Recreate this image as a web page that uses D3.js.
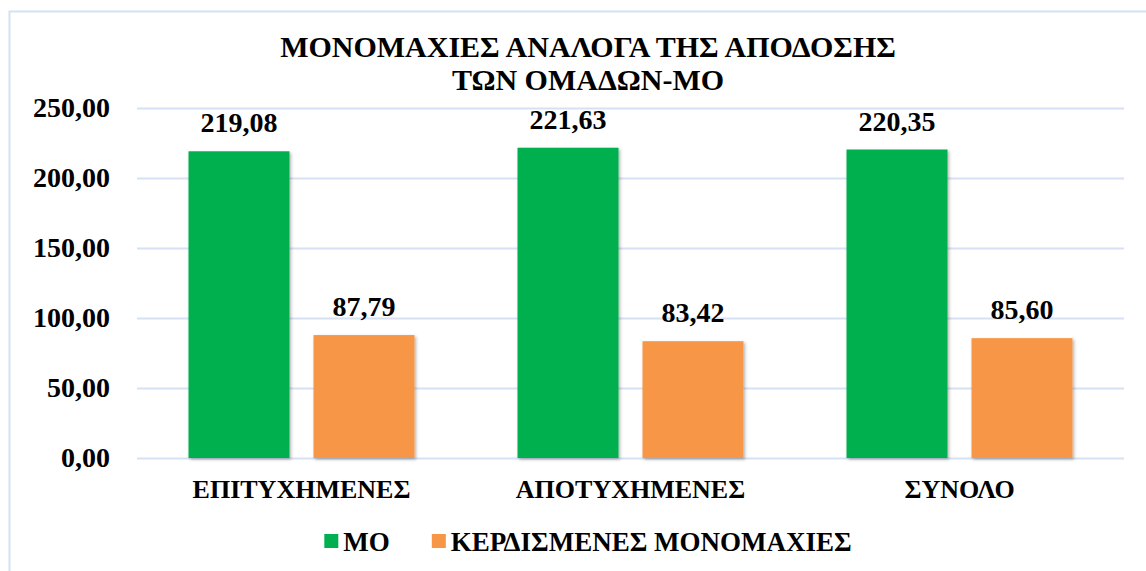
<!DOCTYPE html>
<html>
<head>
<meta charset="utf-8">
<script src="https://cdn.jsdelivr.net/npm/d3@7"></script>
<style>
  html, body { margin: 0; padding: 0; background: #fff; }
  svg { display: block; }
</style>
</head>
<body>
<svg id="chart" width="1146" height="571"></svg>
<script>
// chart data
const titleLines = ["ΜΟΝΟΜΑΧΙΕΣ ΑΝΑΛΟΓΑ ΤΗΣ ΑΠΟΔΟΣΗΣ", "ΤΩΝ ΟΜΑΔΩΝ-ΜΟ"];
const categories = ["ΕΠΙΤΥΧΗΜΕΝΕΣ", "ΑΠΟΤΥΧΗΜΕΝΕΣ", "ΣΥΝΟΛΟ"];
const seriesNames = ["ΜΟ", "ΚΕΡΔΙΣΜΕΝΕΣ ΜΟΝΟΜΑΧΙΕΣ"];
const moValues = [219.08, 221.63, 220.35];
const wonValues = [87.79, 83.42, 85.60];
const yTicks = [0, 50, 100, 150, 200, 250];
const colors = ["#00B050", "#F79646"];

const FONT = "Liberation Serif";
const seriesValues = [moValues, wonValues];
const fmt = v => v.toFixed(2).replace(".", ",");

const svg = d3.select("#chart");
const margin = {top: 108, right: 22, bottom: 113, left: 137};
const width = 1146 - margin.left - margin.right;   // plot width
const height = 571 - margin.top - margin.bottom;   // plot height
const centerX = 588; // chart centre (title and legend)

// shadow for the bars
const defs = svg.append("defs");
const f = defs.append("filter").attr("id", "shadow")
    .attr("x", "-10%").attr("y", "-10%").attr("width", "130%").attr("height", "130%");
f.append("feDropShadow")
    .attr("dx", 1.5).attr("dy", 1.5).attr("stdDeviation", 1.5)
    .attr("flood-color", "#000").attr("flood-opacity", 0.3);

// outer chart border (runs past the window on right and bottom)
svg.append("rect")
    .attr("x", 9.5).attr("y", 11.5)
    .attr("width", 1300).attr("height", 700)
    .attr("fill", "none")
    .attr("stroke", "#D6E2F4")
    .attr("stroke-width", 2);

// title
svg.append("text")
    .attr("text-anchor", "middle")
    .attr("font-family", FONT)
    .attr("font-weight", "bold")
    .attr("font-size", 30)
    .attr("fill", "#000")
    .selectAll("tspan")
    .data(titleLines)
  .enter().append("tspan")
    .attr("x", centerX)
    .attr("y", (d, i) => 57 + i * 33)
    .text(d => d);

const g = svg.append("g")
    .attr("transform", "translate(" + margin.left + "," + margin.top + ")");

const x0 = d3.scaleBand()
    .domain(categories)
    .range([0, width])
    .padding(0);

const x1 = d3.scaleBand()
    .domain(d3.range(seriesNames.length))
    .range([51.5, x0.bandwidth() - 51.5])
    .paddingInner(0.192)
    .paddingOuter(0);

const y = d3.scaleLinear()
    .domain([0, 250])
    .range([height, 0]);

// gridlines
g.append("g")
    .selectAll("line")
    .data(yTicks)
  .enter().append("line")
    .attr("x1", 0).attr("x2", width)
    .attr("y1", d => Math.round(y(d)) + 0.5)
    .attr("y2", d => Math.round(y(d)) + 0.5)
    .attr("stroke", "#D6E2F4")
    .attr("stroke-width", 2);

// y axis labels
const yAxis = g.append("g")
    .call(d3.axisLeft(y).tickValues(yTicks).tickFormat(fmt).tickSize(0).tickPadding(27));
yAxis.attr("font-family", FONT);
yAxis.select(".domain").remove();
yAxis.selectAll("text")
    .attr("font-family", FONT)
    .attr("font-weight", "bold")
    .attr("font-size", 28)
    .attr("fill", "#000");

// x axis labels
const xAxis = g.append("g")
    .attr("transform", "translate(0," + height + ")")
    .call(d3.axisBottom(x0).tickSize(0).tickPadding(22));
xAxis.attr("font-family", FONT);
xAxis.select(".domain").remove();
xAxis.selectAll("text")
    .attr("font-family", FONT)
    .attr("font-weight", "bold")
    .attr("font-size", 26)
    .attr("fill", "#000");

// bars
const groups = g.selectAll(".cat")
    .data(categories)
  .enter().append("g")
    .attr("class", "cat")
    .attr("transform", d => "translate(" + x0(d) + ",0)");

groups.selectAll("rect")
    .data((d, ci) => seriesValues.map((vals, si) => ({si: si, v: vals[ci]})))
  .enter().append("rect")
    .attr("x", d => x1(d.si))
    .attr("y", d => y(d.v))
    .attr("width", x1.bandwidth())
    .attr("height", d => height - y(d.v))
    .attr("fill", d => colors[d.si])
    .attr("filter", "url(#shadow)");

// value labels
groups.selectAll(".val")
    .data((d, ci) => seriesValues.map((vals, si) => ({si: si, v: vals[ci]})))
  .enter().append("text")
    .attr("class", "val")
    .attr("x", d => x1(d.si) + x1.bandwidth() / 2)
    .attr("y", d => y(d.v) - 19)
    .attr("text-anchor", "middle")
    .attr("font-family", FONT)
    .attr("font-weight", "bold")
    .attr("font-size", 28)
    .attr("fill", "#000")
    .text(d => fmt(d.v));

// legend
const legend = svg.append("g");
let lx = 0;
seriesNames.forEach((name, i) => {
    const item = legend.append("g").attr("transform", "translate(" + lx + ",0)");
    item.append("rect")
        .attr("x", 0).attr("y", 534)
        .attr("width", 14).attr("height", 14)
        .attr("fill", colors[i]);
    const t = item.append("text")
        .attr("x", 19).attr("y", 551)
        .attr("font-family", FONT)
        .attr("font-weight", "bold")
        .attr("font-size", 27)
        .attr("fill", "#000")
        .text(name);
    lx += 19 + t.node().getComputedTextLength() + 42;
});
const legendWidth = lx - 42;
legend.attr("transform", "translate(" + (centerX - legendWidth / 2) + ",0)");
</script>
</body>
</html>
